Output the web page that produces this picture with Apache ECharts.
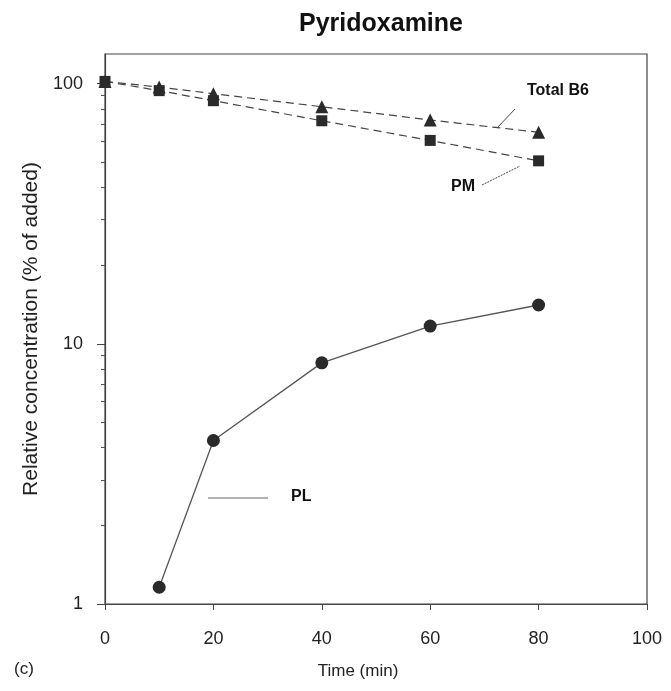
<!DOCTYPE html>
<html>
<head>
<meta charset="utf-8">
<script src="https://cdn.jsdelivr.net/npm/echarts@6/dist/echarts.min.js"></script>
<style>html,body{margin:0;padding:0;background:#fff;}#c{width:671px;height:691px;}</style>
</head>
<body>
<div id="c"></div>
<script>
// Data
var times = [0, 10, 20, 40, 60, 80];
var totalB6 = [102, 97, 91.5, 81.5, 72.5, 65];
var pm = [102, 94, 86, 72, 60.5, 50.5];
var plTimes = [10, 20, 40, 60, 80];
var pl = [1.16, 4.25, 8.45, 11.7, 14.1];
var xTicks = [0, 20, 40, 60, 80, 100];
var yMajor = [1, 10, 100];
var yMinor = [2,3,4,5,6,7,8,9,20,30,40,50,60,70,80,90];

function pairs(xs, ys){ return xs.map(function(x,i){ return [x, ys[i]]; }); }

var FONT = 'Liberation Sans, Arial, sans-serif';
var INK = '#2a2a2a';
var chart = echarts.init(document.getElementById('c'), null, {renderer:'canvas'});
chart.setOption({
  backgroundColor: '#fff',
  animation: false,
  title: {
    text: 'Pyridoxamine', left: 376, top: 7, textAlign: 'center',
    textStyle: {fontFamily: FONT, fontSize: 25, fontWeight: 'bold', color: '#111'}
  },
  grid: {left: 105, top: 54, right: 24, bottom: 87, show: true, borderColor: '#444', borderWidth: 1.2, backgroundColor: 'transparent'},
  xAxis: {
    type: 'value', min: 0, max: 100, interval: 20,
    name: 'Time (min)', nameLocation: 'middle', nameGap: 59,
    nameTextStyle: {fontFamily: FONT, fontSize: 17, color: '#222', padding: [0, 36, 0, 0]},
    axisLine: {lineStyle: {color: '#444', width: 1.2}},
    axisTick: {show: true, inside: false, length: 6, lineStyle: {color: '#444'}, customValues: xTicks},
    axisLabel: {fontFamily: FONT, fontSize: 18, color: '#222', margin: 26, customValues: xTicks},
    splitLine: {show: false}
  },
  yAxis: [{
    type: 'log', logBase: 10, min: 1, max: 130,
    name: 'Relative concentration (% of added)', nameLocation: 'middle', nameGap: 55, nameRotate: 90,
    nameTextStyle: {fontFamily: FONT, fontSize: 21, color: '#222'},
    axisLine: {show: true, lineStyle: {color: '#444', width: 1.2}},
    axisTick: {show: true, inside: false, length: 8, lineStyle: {color: '#444'}, customValues: yMajor},
    axisLabel: {fontFamily: FONT, fontSize: 18, color: '#222', margin: 22, customValues: yMajor},
    splitLine: {show: false}
  }, {
    type: 'log', logBase: 10, min: 1, max: 130, position: 'left',
    axisLine: {show: false},
    axisTick: {show: true, inside: false, length: 4, lineStyle: {color: '#555'}, customValues: yMinor},
    axisLabel: {show: false},
    splitLine: {show: false}
  }],
  series: [{
    name: 'PM', type: 'line', data: pairs(times, pm),
    symbol: 'rect', symbolSize: 11,
    itemStyle: {color: INK},
    lineStyle: {color: '#444', width: 1.2, type: [8, 5]}
  }, {
    name: 'Total B6', type: 'line', data: pairs(times, totalB6),
    symbol: 'triangle', symbolSize: 13,
    itemStyle: {color: INK},
    lineStyle: {color: '#444', width: 1.2, type: [8, 5]}
  }, {
    name: 'PL', type: 'line', data: pairs(plTimes, pl),
    symbol: 'circle', symbolSize: 13,
    itemStyle: {color: INK},
    lineStyle: {color: '#555', width: 1.3}
  }],
  graphic: [
    {type: 'text', left: 527, top: 83, style: {text: 'Total B6', font: 'bold 16px ' + FONT, fill: '#111'}},
    {type: 'line', shape: {x1: 497, y1: 128, x2: 515, y2: 109}, style: {stroke: '#444', lineWidth: 1}},
    {type: 'text', left: 451, top: 179, style: {text: 'PM', font: 'bold 16px ' + FONT, fill: '#111'}},
    {type: 'line', shape: {x1: 482, y1: 185, x2: 520, y2: 166}, style: {stroke: '#444', lineWidth: 1, lineDash: [2, 1]}},
    {type: 'text', left: 291, top: 489, style: {text: 'PL', font: 'bold 16px ' + FONT, fill: '#111'}},
    {type: 'line', shape: {x1: 208, y1: 498, x2: 268, y2: 498}, style: {stroke: '#666', lineWidth: 1}},
    {type: 'text', left: 14, top: 661, style: {text: '(c)', font: '17px ' + FONT, fill: '#222'}}
  ]
});
</script>
</body>
</html>
